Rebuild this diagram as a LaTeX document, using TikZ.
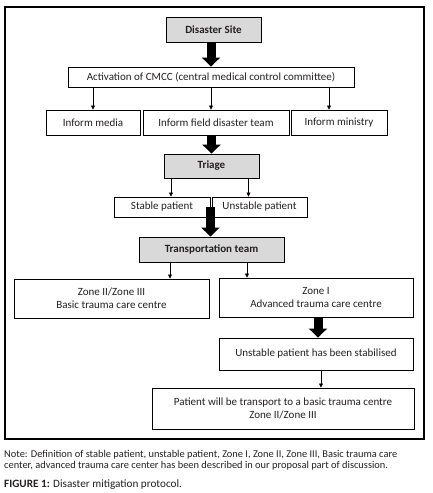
\documentclass[tikz,border=0pt]{standalone}
\usepackage{fontspec}
\setmainfont{Carlito}
\usetikzlibrary{arrows.meta}
\definecolor{boxgray}{HTML}{D9D9D9}
\definecolor{txt}{HTML}{231F20}
\tikzset{
  box/.style={draw=black, line width=0.9pt, inner sep=0pt, align=center, font=\fontsize{11}{13}\selectfont, text=txt},
  graybox/.style={box, fill=boxgray, font=\fontsize{11}{13}\selectfont\bfseries},
  big/.style={line width=9pt, -{Triangle[width=18pt,length=9pt]}},
  arr/.style={line width=0.7pt, -{Triangle[width=4pt,length=4pt]}},
  notetext/.style={anchor=base west, inner sep=0pt, text=txt, font=\fontsize{10.4}{12}\selectfont},
}
\begin{document}
\begin{tikzpicture}[x=1pt,y=-1pt]
\useasboundingbox (0,0) rectangle (433,493);
\node[draw=black, line width=1.2pt, minimum width=419pt, minimum height=432pt, inner sep=0pt] (frame) at (214.5,223) {};
\node[graybox, minimum width=95pt, minimum height=25pt] (site) at (213.5,29.5) {Disaster Site};
\node[box, minimum width=286pt, minimum height=20pt] (act) at (211,77) {Activation of CMCC (central medical control committee)};
\node[box, minimum width=94pt, minimum height=25pt] (media) at (93,122.5) {Inform media};
\node[box, minimum width=146pt, minimum height=25pt] (field) at (216,122.5) {Inform field disaster team};
\node[box, minimum width=96pt, minimum height=25pt] (ministry) at (339,122.5) {Inform ministry};
\node[graybox, minimum width=95pt, minimum height=24pt] (triage) at (211.5,166) {Triage};
\node[box, minimum width=96pt, minimum height=20pt] (stable) at (162,207) {Stable patient};
\node[box, minimum width=95pt, minimum height=20pt] (unstable) at (259.5,207) {Unstable patient};
\node[graybox, minimum width=145pt, minimum height=25pt] (transport) at (211.5,249.5) {Transportation team};
\node[box, minimum width=195pt, minimum height=39pt] (zone2) at (111.5,298.5) {Zone II/Zone III\\Basic trauma care centre};
\node[box, minimum width=194pt, minimum height=39pt] (zone1) at (316,297.5) {Zone I\\Advanced trauma care centre};
\node[box, minimum width=194pt, minimum height=32pt] (stab) at (316,354) {Unstable patient has been stabilised};
\node[box, minimum width=262pt, minimum height=41pt] (patient) at (283,408.5) {Patient will be transport to a basic trauma centre\\Zone II/Zone III};
% connectors
\draw[big] (act.north |- site.south) -- (act.north);
\draw[arr] (act.south -| media.north) -- (media.north);
\draw[arr] (act.south) -- (act.south |- field.north);
\draw[arr] ([xshift=-10pt]act.south -| ministry.north) -- ([xshift=-10pt]ministry.north);
\draw[big] (triage.north |- field.south) -- (triage.north);
\draw[arr] ([xshift=9pt]triage.south -| stable.north) -- ([xshift=9pt]stable.north);
\draw[arr] ([xshift=-11pt]triage.south -| unstable.north) -- ([xshift=-11pt]unstable.north);
\draw[big] ([yshift=10pt]stable.south east) -- (stable.south east |- transport.north);
\draw[arr] ([xshift=-41.5pt]transport.south) -- ([xshift=-41.5pt]transport.south |- zone2.north);
\draw[arr] ([xshift=35.5pt]transport.south) -- ([xshift=35.5pt]transport.south |- zone1.north);
\draw[big] ([xshift=2pt]zone1.south) -- ([xshift=2pt]stab.north);
\draw[arr] ([xshift=5pt]stab.south) -- ([xshift=5pt]stab.south |- patient.north);
% note and caption
\node[notetext] (note1) at (4,457) {Note: Definition of stable patient, unstable patient, Zone I, Zone II, Zone III, Basic trauma care};
\node[notetext] (note2) at (4,468) {center, advanced trauma care center has been described in our proposal part of discussion.};
\node[notetext, font=\fontsize{11.2}{13}\selectfont] (cap) at (4,487) {\textbf{FIGURE 1:} Disaster mitigation protocol.};
\end{tikzpicture}
\end{document}
